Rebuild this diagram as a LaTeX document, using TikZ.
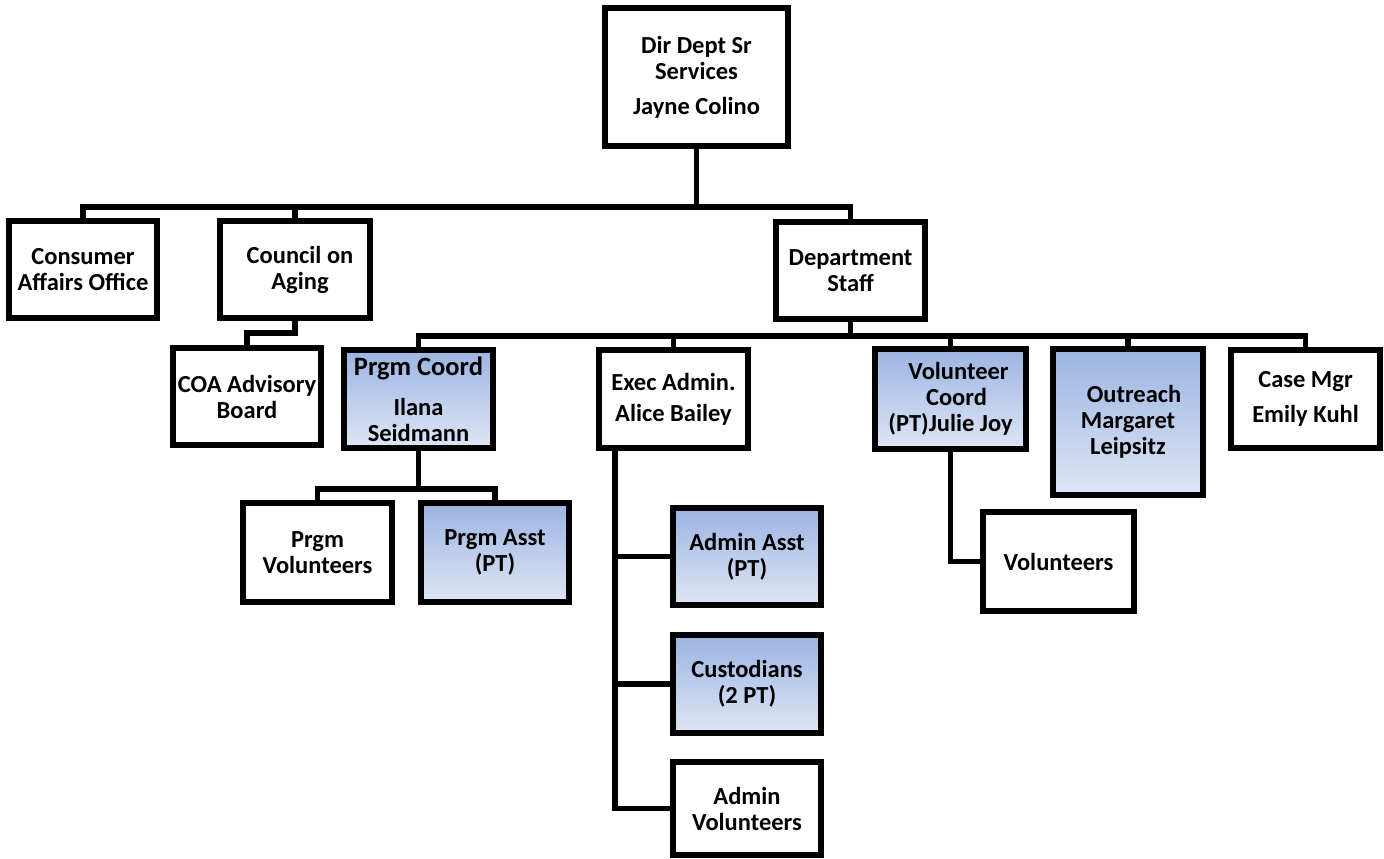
\documentclass[tikz,border=0pt]{standalone}
\usepackage{fontspec}
\setmainfont{Carlito}
\definecolor{gtop}{RGB}{156,180,226}
\definecolor{gbot}{RGB}{222,230,245}
\tikzset{
  orgbox/.style={draw=black, line width=2.8pt, inner sep=0pt, align=center,
    font=\bfseries\fontsize{12.25}{13}\selectfont, fill=white},
  shadedbox/.style={orgbox, top color=gtop, bottom color=gbot},
  conn/.style={draw=black, line width=2.8pt, line join=miter},
}
\newcommand\OB[7]{\node[#1, minimum width={(#5-#3)*0.5pt}, minimum height={(#6-#4)*0.5pt}] (#2) at ({(#3+#5)/2},{(#4+#6)/2}) {#7};}
\begin{document}
\begin{tikzpicture}[x=0.5pt,y=-0.5pt]
\useasboundingbox (0,0) rectangle (1384,858);
% level 0
\OB{orgbox}{dir}{605}{8}{788}{146}{Dir Dept Sr\\Services\\[4.5pt]Jayne Colino}
% level 1
\OB{orgbox}{cons}{9}{221}{157}{318}{Consumer\\Affairs Office}
\OB{orgbox}{coa}{220}{221}{370}{318}{\hspace*{5pt}Council on\\\hspace*{5pt}Aging}
\OB{orgbox}{dept}{776}{222}{925}{319}{Department\\Staff}
% level 2
\OB{orgbox}{coab}{173}{348}{321}{445}{COA Advisory\\Board}
\OB{shadedbox}{pcoord}{344}{350}{493}{448}{{\fontsize{13.25}{13}\selectfont Prgm Coord}\\[7pt]Ilana\\Seidmann}
\OB{orgbox}{exec}{599}{350}{748}{448}{Exec Admin.\\[2.5pt]Alice Bailey}
\OB{shadedbox}{vcoord}{875}{349}{1026}{449}{\hspace*{8pt}Volunteer\\\hspace*{6pt}Coord\\(PT)Julie Joy}
\OB{shadedbox}{outr}{1053}{349}{1203}{495}{\hspace*{6pt}Outreach\\Margaret\\Leipsitz}
\OB{orgbox}{case}{1231}{350}{1380}{448}{Case Mgr\\[4.5pt]Emily Kuhl}
% level 3
\OB{orgbox}{pvol}{243}{503}{392}{602}{Prgm\\Volunteers}
\OB{shadedbox}{passt}{421}{503}{569}{602}{Prgm Asst\\(PT)}
\OB{shadedbox}{aasst}{673}{508}{821}{605}{Admin Asst\\(PT)}
\OB{shadedbox}{cust}{673}{635}{821}{733}{Custodians\\(2 PT)}
\OB{orgbox}{avol}{673}{762}{821}{855}{Admin\\Volunteers}
\OB{orgbox}{vols}{983}{512}{1134}{611}{Volunteers}
% connectors
\coordinate (b1) at (696.5,207);
\coordinate (b2) at (850.5,336);
\coordinate (b3) at (418.5,489);
\coordinate (e0) at (615,448);
\coordinate (c0) at (295,333);
\path[conn] (dir.south) -- (b1);
\path[conn] (cons.north) |- (b1) -| (dept.north);
\path[conn] (coa.north) -- (coa.north |- b1);
\path[conn] (coa.south) -- (c0) -| (coab.north);
\path[conn] (dept.south) -- (b2);
\path[conn] (pcoord.north) |- (b2) -| (case.north);
\path[conn] (exec.north) -- (exec.north |- b2);
\path[conn] (vcoord.north) -- (vcoord.north |- b2);
\path[conn] (outr.north) -- (outr.north |- b2);
\path[conn] (pcoord.south) -- (b3);
\path[conn] (pvol.north) |- (b3) -| (passt.north);
\path[conn] (e0) |- (avol.west);
\path[conn] (e0 |- aasst.west) -- (aasst.west);
\path[conn] (e0 |- cust.west) -- (cust.west);
\path[conn] (vcoord.south) |- (vols.west);
\end{tikzpicture}
\end{document}
